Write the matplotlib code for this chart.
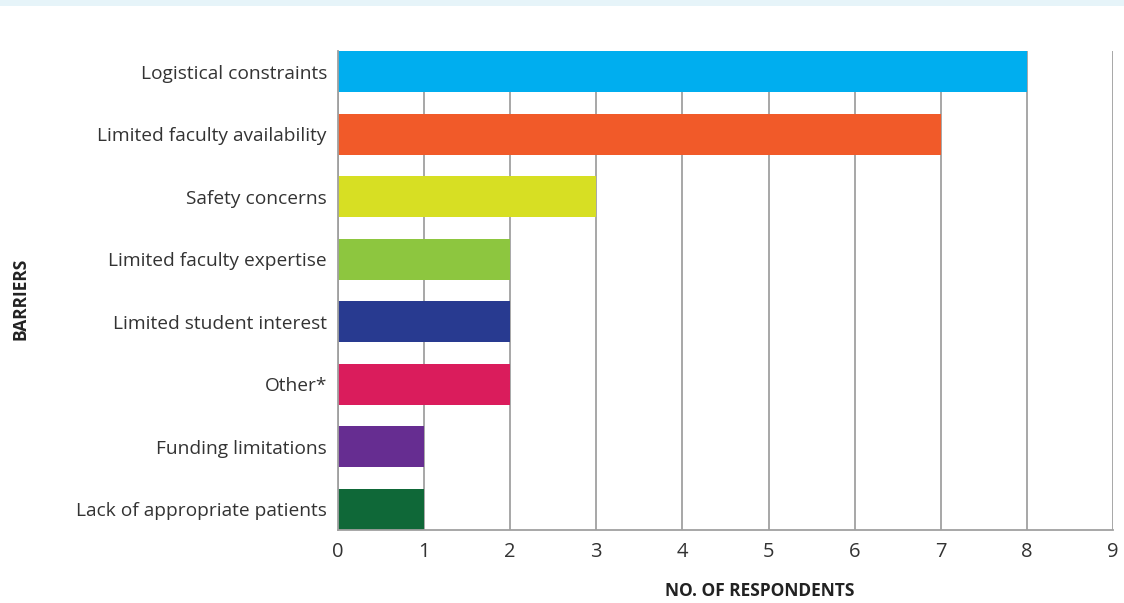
import matplotlib
matplotlib.use("Agg")
import matplotlib.pyplot as plt
from matplotlib.patches import Rectangle

# barriers, top to bottom
barriers = ["Logistical constraints", "Limited faculty availability", "Safety concerns",
            "Limited faculty expertise", "Limited student interest", "Other*",
            "Funding limitations", "Lack of appropriate patients"]
respondents = [8, 7, 3, 2, 2, 2, 1, 1]
colors = ["#00AEEF", "#F15A29", "#D7DF23", "#8DC63F", "#283A90", "#DA1C5C", "#662D91", "#0F6838"]
xticks = list(range(0, 10))

plt.rcParams['font.family'] = ['Open Sans', 'DejaVu Sans']

fig = plt.figure(figsize=(11.24, 6.03), dpi=100)
# light band along the top edge
fig.patches.append(Rectangle((0, 0.99), 1, 0.01, transform=fig.transFigure,
                             facecolor="#E6F4F9", edgecolor="none"))

ax = fig.add_axes([0.3007, 0.1211, 0.6895, 0.7943])
h = 0.66
ypos = list(range(len(barriers)))
ax.barh(ypos, respondents, height=h, color=colors, zorder=2)

ax.set_xlim(0, 9)
ax.set_ylim(len(barriers) - 1 + h / 2, -h / 2)
ax.set_xticks(xticks)
ax.set_yticks(ypos)
ax.set_yticklabels(barriers)
ax.xaxis.grid(True, color="#A0A0A0", linewidth=1.3, zorder=1)
ax.set_axisbelow(True)
ax.tick_params(axis="both", length=0, colors="#333333")
ax.tick_params(axis="y", labelsize=13.8, pad=8)
ax.tick_params(axis="x", labelsize=14.5, pad=9)
for s in ["top", "right"]:
    ax.spines[s].set_visible(False)
for s in ["left", "bottom"]:
    ax.spines[s].set_color("#A0A0A0")
    ax.spines[s].set_linewidth(1.3)

fig.text(0.6757, 0.005, "NO. OF RESPONDENTS", ha="center", va="bottom",
         fontsize=12.5, fontweight="bold", color="#222222")
fig.text(0.018, 0.505, "BARRIERS", ha="center", va="center", rotation=90,
         fontsize=12.5, fontweight="bold", color="#222222")

fig.savefig("out.png", dpi=100)
